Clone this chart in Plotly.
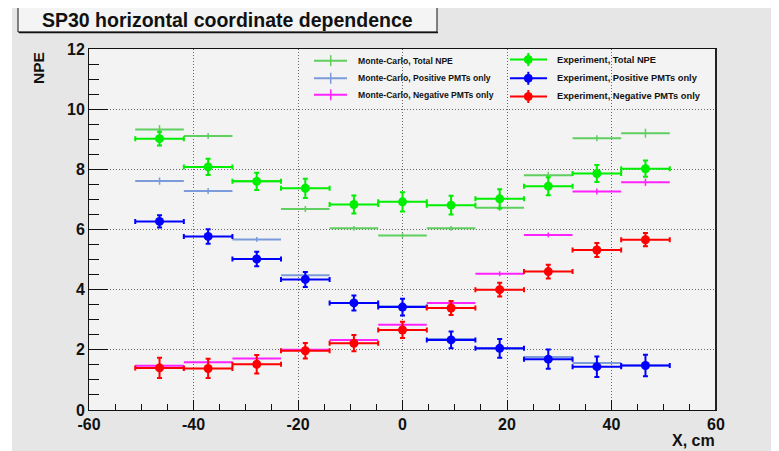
import plotly.graph_objects as go

# ---------------- data ----------------
x_centers = [-46.5, -37.2, -27.9, -18.6, -9.3, 0.0, 9.3, 18.6, 27.9, 37.2, 46.5]
x_halfwidth = [4.65] * 11

mc_total = [9.32, 9.11, 7.60, 6.68, 6.04, 5.80, 6.04, 6.72, 7.80, 9.03, 9.20]
mc_total_err = [0.15, 0.10, 0.12, 0.10, 0.08, 0.08, 0.08, 0.10, 0.12, 0.10, 0.15]
mc_pos = [7.61, 7.28, 5.67, 4.48, 3.56, 3.45, 2.36, 2.04, 1.76, 1.56, 1.48]
mc_pos_err = [0.12, 0.10, 0.08, 0.08, 0.08, 0.08, 0.06, 0.06, 0.06, 0.06, 0.08]
mc_neg = [1.47, 1.59, 1.71, 2.00, 2.33, 2.83, 3.56, 4.53, 5.82, 7.26, 7.57]
mc_neg_err = [0.08, 0.06, 0.06, 0.06, 0.06, 0.08, 0.08, 0.08, 0.08, 0.10, 0.12]

exp_total = [9.02, 8.08, 7.60, 7.37, 6.83, 6.92, 6.81, 7.02, 7.44, 7.86, 8.02]
exp_total_err = [0.23, 0.27, 0.29, 0.32, 0.30, 0.32, 0.31, 0.32, 0.30, 0.28, 0.27]
exp_pos = [6.27, 5.77, 5.02, 4.34, 3.56, 3.42, 2.33, 2.05, 1.69, 1.44, 1.48]
exp_pos_err = [0.20, 0.24, 0.24, 0.25, 0.25, 0.28, 0.28, 0.31, 0.32, 0.34, 0.36]
exp_neg = [1.40, 1.38, 1.52, 1.97, 2.22, 2.66, 3.39, 4.00, 4.60, 5.32, 5.66]
exp_neg_err = [0.34, 0.32, 0.31, 0.26, 0.27, 0.27, 0.23, 0.23, 0.23, 0.23, 0.22]

x_tickvals = [-60, -40, -20, 0, 20, 40, 60]
x_ticktext = ["-60", "-40", "-20", "0", "20", "40", "60"]
y_tickvals = [0, 2, 4, 6, 8, 10, 12]
y_ticktext = ["0", "2", "4", "6", "8", "10", "12"]

title_text = "SP30 horizontal coordinate dependence"
mc_labels = ["Monte-Carlo, Total NPE", "Monte-Carlo, Positive PMTs only", "Monte-Carlo, Negative PMTs only"]
exp_labels = ["Experiment, Total NPE", "Experiment, Positive PMTs only", "Experiment, Negative PMTs only"]

# ---------------- styles ----------------
FONT = "Liberation Sans, Arial, Helvetica, sans-serif"
C_MC = ["#5fcf5f", "#7b9bdb", "#ff22ff"]
C_EXP = ["#00ee00", "#0000ff", "#ff0000"]

WIN_W, WIN_H = 779, 451
OFF = 8                      # default page margin around the figure
W, H = WIN_W - OFF, WIN_H - OFF
L, R, T, B = 89, 716, 49, 410   # plot area in window pixels


def px(xp):
    return (xp - L) / (R - L)


def py(yp):
    return (B - yp) / (B - T)


fig = go.Figure()

# Monte-Carlo histograms (lines across bins, small vertical errors)
for yv, ye, col in [(mc_total, mc_total_err, C_MC[0]),
                    (mc_pos, mc_pos_err, C_MC[1]),
                    (mc_neg, mc_neg_err, C_MC[2])]:
    fig.add_trace(go.Scatter(
        x=x_centers, y=yv, mode="markers",
        marker=dict(size=1, color=col),
        error_x=dict(type="data", array=x_halfwidth, symmetric=True,
                     width=0, thickness=2, color=col),
        error_y=dict(type="data", array=ye, symmetric=True,
                     width=0, thickness=1.5, color=col),
        showlegend=False, hoverinfo="skip"))

# Experiment points
for yv, ye, col in [(exp_total, exp_total_err, C_EXP[0]),
                    (exp_pos, exp_pos_err, C_EXP[1]),
                    (exp_neg, exp_neg_err, C_EXP[2])]:
    fig.add_trace(go.Scatter(
        x=x_centers, y=yv, mode="markers",
        marker=dict(size=9, color=col, symbol="circle"),
        error_x=dict(type="data", array=x_halfwidth, symmetric=True,
                     width=2.5, thickness=2, color=col),
        error_y=dict(type="data", array=ye, symmetric=True,
                     width=2.5, thickness=2, color=col),
        showlegend=False, hoverinfo="skip"))

shapes = []
annotations = []

# white strip at the left edge of the canvas
shapes.append(dict(type="rect", xref="paper", yref="paper",
                   x0=px(0), x1=px(12), y0=py(WIN_H + 5), y1=py(-5),
                   fillcolor="white", line=dict(width=0), layer="below"))

# frame right edge (thicker)
shapes.append(dict(type="line", xref="paper", yref="paper",
                   x0=1, x1=1, y0=0, y1=1, line=dict(color="#222", width=2)))

# title box
shapes.append(dict(type="rect", xref="paper", yref="paper",
                   x0=px(18), x1=px(437), y0=py(32), y1=py(7),
                   fillcolor="#f4f4f4", line=dict(color="#111", width=1)))
shapes.append(dict(type="line", xref="paper", yref="paper",
                   x0=px(19), x1=px(438), y0=py(32.5), y1=py(32.5),
                   line=dict(color="#111", width=1.5)))
annotations.append(dict(xref="paper", yref="paper", x=px(227), y=py(19.5),
                        text="<b>" + title_text + "</b>", showarrow=False,
                        xanchor="center", yanchor="middle",
                        font=dict(family=FONT, size=19.5, color="#111")))

# axis titles
annotations.append(dict(xref="paper", yref="paper", x=px(39), y=py(50),
                        text="<b>NPE</b>", textangle=-90, showarrow=False,
                        xanchor="center", yanchor="top",
                        font=dict(family=FONT, size=15.5, color="#111")))
annotations.append(dict(xref="paper", yref="paper", x=px(717), y=py(440),
                        text="<b>X, cm</b>", showarrow=False,
                        xanchor="right", yanchor="middle",
                        font=dict(family=FONT, size=16, color="#111")))

# manual legend
mc_rows = [60.7, 78.3, 94.8]
exp_rows = [59.5, 78.3, 96.5]
for i in range(3):
    yr = mc_rows[i]
    shapes.append(dict(type="line", xref="paper", yref="paper",
                       x0=px(314), x1=px(347), y0=py(yr), y1=py(yr),
                       line=dict(color=C_MC[i], width=2)))
    shapes.append(dict(type="line", xref="paper", yref="paper",
                       x0=px(330.7), x1=px(330.7), y0=py(yr - 5.5), y1=py(yr + 5.5),
                       line=dict(color=C_MC[i], width=1.5)))
    annotations.append(dict(xref="paper", yref="paper", x=px(355.5), y=py(yr),
                            text="<b>" + mc_labels[i] + "</b>", showarrow=False,
                            xanchor="left", yanchor="middle",
                            font=dict(family=FONT, size=8.6, color="#111")))
    ye = exp_rows[i]
    shapes.append(dict(type="line", xref="paper", yref="paper",
                       x0=px(510), x1=px(547), y0=py(ye), y1=py(ye),
                       line=dict(color=C_EXP[i], width=2)))
    shapes.append(dict(type="line", xref="paper", yref="paper",
                       x0=px(528.3), x1=px(528.3), y0=py(ye - 6.5), y1=py(ye + 6.5),
                       line=dict(color=C_EXP[i], width=2)))
    shapes.append(dict(type="circle", xref="paper", yref="paper",
                       x0=px(524.3), x1=px(532.3), y0=py(ye - 4), y1=py(ye + 4),
                       fillcolor=C_EXP[i], line=dict(color=C_EXP[i], width=1)))
    annotations.append(dict(xref="paper", yref="paper", x=px(555), y=py(ye),
                            text="<b>" + exp_labels[i] + "</b>", showarrow=False,
                            xanchor="left", yanchor="middle",
                            font=dict(family=FONT, size=9.3, color="#111")))

fig.update_layout(
    width=W, height=H,
    margin=dict(l=L - OFF, r=WIN_W - R, t=T - OFF, b=WIN_H - B, pad=0),
    paper_bgcolor="#e6e6e6",
    plot_bgcolor="#f3f3f3",
    font=dict(family=FONT, size=16, color="#111"),
    showlegend=False,
    shapes=shapes,
    annotations=annotations,
    xaxis=dict(
        range=[-60, 60], tickmode="array", tickvals=x_tickvals, ticktext=x_ticktext,
        ticks="inside", ticklen=10, tickwidth=1, tickcolor="#111",
        tickfont=dict(family=FONT, size=16, color="#111", weight="bold"),
        showline=True, linecolor="#111", linewidth=1, mirror=True,
        showgrid=True, gridcolor="#666", gridwidth=1, griddash="1px,2px",
        zeroline=False,
        minor=dict(dtick=5, ticks="inside", ticklen=6, tickcolor="#111", showgrid=False),
    ),
    yaxis=dict(
        range=[0, 12], tickmode="array", tickvals=y_tickvals, ticktext=y_ticktext,
        ticks="inside", ticklen=19, tickwidth=1, tickcolor="#111",
        tickfont=dict(family=FONT, size=16, color="#111", weight="bold"),
        showline=True, linecolor="#111", linewidth=1, mirror=True,
        showgrid=True, gridcolor="#666", gridwidth=1, griddash="1px,2px",
        zeroline=False,
        minor=dict(dtick=0.5, ticks="inside", ticklen=10, tickcolor="#111", showgrid=False),
    ),
)

fig.write_html("out.html")
